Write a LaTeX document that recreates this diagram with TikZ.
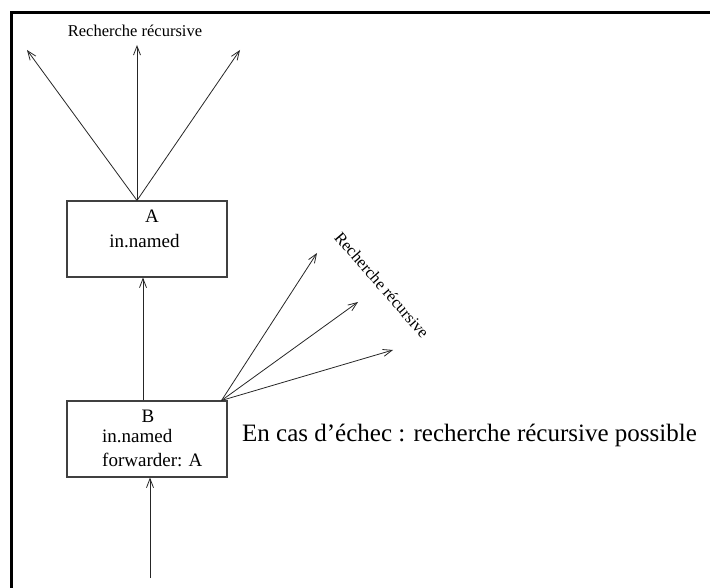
\documentclass[tikz,border=0pt]{standalone}
\usepackage{fontspec}
\setmainfont{Liberation Serif}
\usetikzlibrary{arrows.meta}
\begin{document}
\begin{tikzpicture}[x=1pt,y=-1pt,
  server/.style={draw=black!75,line width=1.1pt,minimum width=160pt,minimum height=76pt,inner sep=0pt,fill=white},
  arr/.style={draw=black!85,line width=0.8pt,-{Straight Barb[length=9pt,width=7pt,line width=0.8pt]}},
  boxtext/.style={font=\fontsize{19}{22}\selectfont,anchor=base,inner sep=0pt},
  smalltext/.style={font=\fontsize{16.5}{19}\selectfont,inner sep=0pt},
  bigtext/.style={font=\fontsize{25}{29}\selectfont,inner sep=0pt}]
\useasboundingbox (0,0) rectangle (710,588);
\clip (0,0) rectangle (710,588);
% outer frame, running off the page to the right and bottom
\draw[line width=3pt] (11.5,12.5) rectangle (740,620);

% name servers
\node[server] (A) at (147,239) {};
\node[server] (B) at (147,439) {};
\node[boxtext] (Aname) at (152,223) {A};
\node[boxtext] (Azone) at (144.5,248) {in.named};
\node[boxtext] (Bname) at (148,422) {B};
\node[boxtext,anchor=base west] (Bzone) at (102,442) {in.named};
\node[boxtext,anchor=base west] (Bfwd) at (102,466) {forwarder: A};

% incoming query and forwarding to A
\coordinate (q) at (150,578);
\draw[arr] (q) -- (q |- B.south);
\draw[arr] ([xshift=-4pt]B.north) -- ([xshift=-4pt]A.south);

% recursive search from A
\coordinate (a1) at (27,50);
\coordinate (a2) at (137,45);
\coordinate (a3) at (240,50);
\draw[arr] ([xshift=-10pt]A.north) -- (a1);
\draw[arr] ([xshift=-10pt]A.north) -- (a2);
\draw[arr] ([xshift=-10pt]A.north) -- (a3);
\node[smalltext,anchor=base] (Arec) at (135,37) {Recherche récursive};

% possible recursive search from B
\coordinate (b1) at (317,253);
\coordinate (b2) at (358,302);
\coordinate (b3) at (393,350);
\draw[arr] ([xshift=-6pt]B.north east) -- (b1);
\draw[arr] ([xshift=-6pt]B.north east) -- (b2);
\draw[arr] ([xshift=-6pt]B.north east) -- (b3);
\node[smalltext,rotate=-49] (Brec) at (382,285) {Recherche récursive};

\node[bigtext,anchor=base west] (note) at (242,441) {En cas d’échec : recherche récursive possible};
\end{tikzpicture}
\end{document}
